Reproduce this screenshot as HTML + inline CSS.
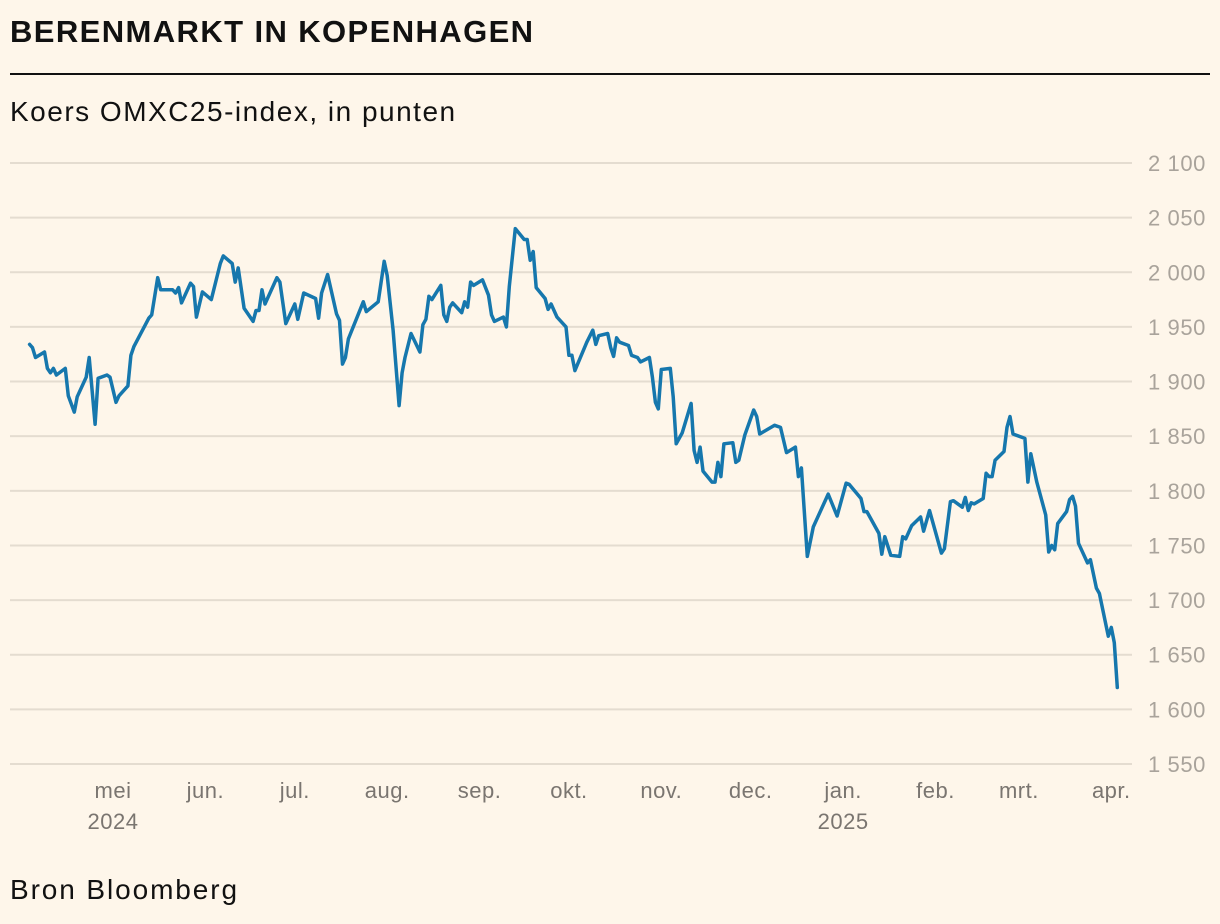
<!DOCTYPE html>
<html><head><meta charset="utf-8"><style>
html,body{margin:0;padding:0;background:#fef6ea;}
body{width:1220px;height:924px;overflow:hidden;font-family:"Liberation Sans",sans-serif;position:relative;}
.t{position:absolute;left:10px;top:14px;font-size:31px;font-weight:bold;color:#111;letter-spacing:1.4px;}
.rule{position:absolute;left:10px;top:73px;width:1200px;height:2px;background:#111;}
.sub{position:absolute;left:10px;top:96px;font-size:28px;color:#111;letter-spacing:1.5px;}
.src{position:absolute;left:10px;top:874px;font-size:28px;color:#111;letter-spacing:1.9px;}
svg{position:absolute;left:0;top:0;}
</style></head><body>
<div class="t">BERENMARKT IN KOPENHAGEN</div>
<div class="rule"></div>
<div class="sub">Koers OMXC25-index, in punten</div>
<div class="src">Bron Bloomberg</div>
<svg id="chart" width="1220" height="924"></svg>
<script>
const yTicks=[1550,1600,1650,1700,1750,1800,1850,1900,1950,2000,2050,2100];
const yTickLabels=["1 550","1 600","1 650","1 700","1 750","1 800","1 850","1 900","1 950","2 000","2 050","2 100"];
const monthDays=[30,61,91,122,153,183,214,244,275,306,334,365];
const monthLabels=["mei","jun.","jul.","aug.","sep.","okt.","nov.","dec.","jan.","feb.","mrt.","apr."];
const yearLabels=["2024","","","","","","","","2025","","",""];
// days since 1 April 2024
const days=[2,3,4,7,8,9,10,11,14,15,17,18,21,22,24,25,28,29,31,32,35,36,37,42,43,45,46,50,51,52,53,56,57,58,60,63,66,67,70,71,72,74,77,78,79,80,81,85,86,88,91,92,94,98,99,100,102,105,106,107,108,109,114,115,119,121,122,124,126,127,128,130,133,134,135,136,137,140,141,142,143,144,147,148,149,150,151,154,156,157,158,161,162,163,165,168,169,170,171,172,175,176,177,179,182,183,184,185,189,191,192,193,196,197,198,199,200,203,204,206,207,210,211,212,213,214,217,218,219,221,224,225,226,227,228,231,232,233,234,235,238,239,240,242,245,246,247,252,254,256,259,260,261,263,265,270,273,276,277,281,282,283,287,288,289,291,294,295,296,298,301,302,304,308,309,311,312,315,316,317,318,319,322,323,324,325,326,329,330,331,332,336,337,338,340,343,344,345,346,347,350,351,352,353,354,357,358,360,361,364,365,366,367];
const values=[1934,1931,1922,1927,1912,1908,1912,1906,1912,1887,1872,1886,1904,1922,1861,1903,1906,1904,1881,1887,1896,1924,1932,1958,1961,1995,1984,1984,1981,1986,1972,1990,1987,1959,1982,1975,2008,2015,2008,1991,2004,1967,1955,1965,1965,1984,1971,1995,1991,1953,1971,1957,1981,1976,1958,1981,1998,1962,1956,1916,1922,1939,1973,1964,1973,2010,1997,1947,1878,1908,1922,1944,1927,1952,1957,1978,1975,1988,1961,1955,1968,1972,1963,1973,1968,1991,1988,1993,1979,1961,1955,1959,1950,1987,2040,2030,2030,2011,2019,1986,1976,1966,1971,1959,1950,1924,1924,1910,1936,1947,1934,1942,1944,1931,1923,1940,1936,1933,1924,1922,1918,1922,1904,1881,1875,1911,1912,1886,1843,1853,1880,1837,1826,1840,1818,1808,1808,1826,1813,1843,1844,1826,1828,1851,1874,1868,1852,1860,1858,1835,1840,1813,1821,1740,1767,1797,1777,1807,1806,1793,1781,1781,1761,1742,1758,1741,1740,1758,1756,1768,1776,1763,1782,1743,1747,1790,1791,1785,1794,1782,1789,1788,1793,1816,1813,1813,1828,1836,1858,1868,1852,1848,1808,1834,1808,1778,1744,1750,1746,1770,1781,1792,1795,1786,1752,1734,1737,1711,1706,1667,1675,1661,1620];

const NS="http://www.w3.org/2000/svg";
const svg=document.getElementById('chart');
const xS=d=>23.6+d*2.98;
const yS=v=>163+(2100-v)*(601/550);
function mk(tag,attrs,txt){const e=document.createElementNS(NS,tag);for(const k in attrs)e.setAttribute(k,attrs[k]);if(txt!==undefined)e.textContent=txt;svg.appendChild(e);return e;}
yTicks.forEach((v,i)=>{
  const g=mk('line',{x1:10,x2:1132,y1:yS(v),y2:yS(v),stroke:'#e4dcd0','stroke-width':2});
  
  
  const t=mk('text',{x:1206,y:yS(v)+8,'text-anchor':'end','font-size':22,'letter-spacing':0.6,fill:'#a9a39b','font-family':'Liberation Sans, sans-serif'},yTickLabels[i]);
  
  
});
monthDays.forEach((d,i)=>{
  const t=mk('text',{x:xS(d),y:798,'text-anchor':'middle','font-size':22,'letter-spacing':0.5,fill:'#7a7570','font-family':'Liberation Sans, sans-serif'},monthLabels[i]);
  
  
  if(yearLabels[i]){
    const y=mk('text',{x:xS(d),y:829,'text-anchor':'middle','font-size':22,'letter-spacing':0.5,fill:'#7a7570','font-family':'Liberation Sans, sans-serif'},yearLabels[i]);
    
    
  }
});
const pts=days.map((d,i)=>xS(d).toFixed(1)+','+yS(values[i]).toFixed(1)).join(' ');
const line=mk('polyline',{points:pts,fill:'none',stroke:'#1677ad','stroke-width':3.5,'stroke-linejoin':'round','stroke-linecap':'round'});


</script>
</body></html>
